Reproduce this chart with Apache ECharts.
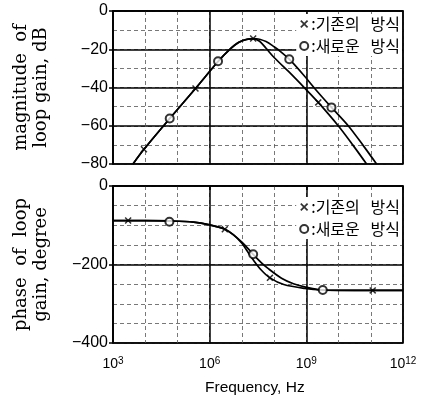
<!DOCTYPE html>
<html>
<head>
<meta charset="utf-8">
<script src="https://cdn.jsdelivr.net/npm/echarts@6/dist/echarts.min.js"></script>
<style>
  html, body { margin: 0; padding: 0; background: #fff; }
  #main { width: 422px; height: 401px; }
</style>
</head>
<body>
<div id="main"></div>
<script>
// x values are log10(frequency in Hz)
const xTicks = [3, 6, 9, 12];
const nameOld = '기존의 방식';
const nameNew = '새로운 방식';

// magnitude of loop gain, dB (curves)
const magOldCurve = [[3.62, -80], [3.96, -72.3], [4.76, -56.2], [5.56, -40.5], [6.26, -26.4], [6.6, -20.4],
  [6.9, -16.5], [7.15, -14.8], [7.35, -14.4], [7.55, -15.8], [7.75, -19.5], [8.0, -24.3], [8.5, -32.5],
  [8.95, -40.3], [9.37, -47.8], [9.99, -60], [10.44, -70], [10.87, -80]];
const magNewCurve = [[3.62, -80], [3.96, -72.3], [4.76, -56.2], [5.56, -40.5], [6.26, -26.4], [6.6, -20.4],
  [6.9, -16.4], [7.2, -14.7], [7.45, -14.5], [7.75, -16], [8.0, -18.7], [8.2, -21.2], [8.47, -25.2],
  [8.9, -33.2], [9.26, -40.5], [9.78, -50.4], [10.3, -60], [10.75, -70], [11.18, -80]];
const magOldMarks = [[3.96, -72.3], [5.56, -40.5], [7.35, -14.4], [9.37, -47.8]];
const magNewMarks = [[4.76, -56.2], [6.26, -26.3], [8.47, -25.2], [9.78, -50.4]];

// phase of loop gain, degree
const phaseOldCurve = [[3, -88], [4, -88], [4.75, -89], [5.5, -92], [6.0, -99], [6.47, -110], [6.75, -125],
  [7.0, -146], [7.2, -170], [7.35, -188], [7.6, -214], [7.87, -234], [8.3, -251], [8.95, -261],
  [9.5, -265], [10.5, -266], [12, -266]];
const phaseNewCurve = [[3, -88], [4, -88], [4.75, -89], [5.5, -92], [6.0, -99], [6.47, -110], [6.75, -125],
  [7.0, -143], [7.2, -160], [7.35, -174], [7.6, -195], [7.81, -210], [8.23, -235], [8.6, -249],
  [8.95, -257], [9.47, -265], [10, -266], [12, -266]];
const phaseOldMarks = [[3.47, -88], [6.47, -110], [7.87, -234], [11.06, -266]];
const phaseNewMarks = [[4.75, -91], [7.35, -174], [9.51, -265]];

const xSymbol = 'path://M0,1.5L1.5,0L5,3.5L8.5,0L10,1.5L6.5,5L10,8.5L8.5,10L5,6.5L1.5,10L0,8.5L3.5,5Z';

const chart = echarts.init(document.getElementById('main'));

const dashed = { color: '#555', type: [4, 3], width: 0.8 };
const solid = { color: '#000', width: 1.5 };
const tickFont = { color: '#000', fontFamily: 'Liberation Sans', fontSize: 16 };
const minus = v => String(v).replace('-', '\u2212');

function minorX(grid) {
  return { gridIndex: grid, type: 'value', position: 'bottom', min: 3, max: 12, interval: 1,
    axisLine: { show: false }, axisTick: { show: false }, axisLabel: { show: false },
    splitLine: { show: true, lineStyle: dashed } };
}
function majorX(grid, labels) {
  return { gridIndex: grid, type: 'value', position: 'bottom', min: 3, max: 12, interval: 3,
    axisLine: { show: true, lineStyle: solid },
    axisTick: { show: labels, length: 4, lineStyle: solid },
    axisLabel: { show: labels, margin: 13,
      formatter: v => '{b|10}{s|' + v + '}',
      rich: {
        b: { fontFamily: 'Liberation Sans', fontSize: 14, color: '#000', lineHeight: 16 },
        s: { fontFamily: 'Liberation Sans', fontSize: 10, color: '#000', padding: [0, 0, 7, 0] }
      } },
    splitLine: { show: true, lineStyle: solid } };
}
function minorY(grid, min, step) {
  return { gridIndex: grid, type: 'value', position: 'left', min: min, max: 0, interval: step,
    axisLine: { show: false }, axisTick: { show: false }, axisLabel: { show: false },
    splitLine: { show: true, lineStyle: dashed } };
}
function majorY(grid, min, step, name) {
  return { gridIndex: grid, type: 'value', position: 'left', min: min, max: 0, interval: step,
    name: name, nameLocation: 'middle', nameRotate: 90, nameGap: 62,
    nameTextStyle: { fontFamily: 'DejaVu Serif', fontSize: 18, color: '#000', lineHeight: 20 },
    axisLine: { show: true, lineStyle: solid },
    axisTick: { show: true, length: 4, lineStyle: solid },
    axisLabel: Object.assign({ margin: 5, formatter: minus }, tickFont),
    splitLine: { show: true, lineStyle: solid } };
}

function curve(data, xi, yi) {
  return { type: 'line', data: data, xAxisIndex: xi, yAxisIndex: yi, smooth: 0.3,
    symbol: 'none', lineStyle: { color: '#000', width: 1.7 }, silent: true, z: 3 };
}
function marks(name, data, xi, yi, isNew) {
  return { type: 'scatter', name: name, data: data, xAxisIndex: xi, yAxisIndex: yi,
    symbol: isNew ? 'circle' : xSymbol, symbolSize: isNew ? 8 : 7,
    itemStyle: isNew ? { color: '#fff', borderColor: '#000', borderWidth: 2 } : { color: '#000' }, z: 4 };
}
function legend(top) {
  return { orient: 'vertical', right: 20, top: top, align: 'left', itemGap: 6,
    itemWidth: 8, itemHeight: 8, backgroundColor: '#fff', padding: [2, 2, 2, 3],
    formatter: name => ':' + name.replace(' ', '   '),
    textStyle: { fontFamily: 'Noto Sans CJK KR', fontSize: 16, color: '#000', padding: [0, 0, 0, -2] },
    data: [{ name: nameOld, icon: xSymbol }, { name: nameNew, icon: 'circle' }] };
}

chart.setOption({
  animation: false,
  backgroundColor: '#fff',
  grid: [
    { left: 113, right: 19, top: 11, height: 153, show: true, borderColor: '#000', borderWidth: 1.5,
      outerBoundsMode: 'none', containLabel: false },
    { left: 113, right: 19, top: 186, height: 157, show: true, borderColor: '#000', borderWidth: 1.5,
      outerBoundsMode: 'none', containLabel: false }
  ],
  xAxis: [minorX(0), majorX(0, false), minorX(1), majorX(1, true)],
  yAxis: [minorY(0, -80, 10), majorY(0, -80, 20, 'magnitude  of\nloop gain, dB'),
          minorY(1, -400, 50), majorY(1, -400, 200, 'phase  of  loop\ngain, degree')],
  legend: [legend(14), legend(197)],
  graphic: [{ type: 'text', left: 205, top: 380,
    style: { text: 'Frequency, Hz', fontFamily: 'Liberation Sans', fontSize: 15.5, fill: '#000' } }],
  series: [
    curve(magOldCurve, 1, 1), curve(magNewCurve, 1, 1),
    marks(nameOld, magOldMarks, 1, 1, false), marks(nameNew, magNewMarks, 1, 1, true),
    curve(phaseOldCurve, 3, 3), curve(phaseNewCurve, 3, 3),
    marks(nameOld, phaseOldMarks, 3, 3, false), marks(nameNew, phaseNewMarks, 3, 3, true)
  ]
});
</script>
</body>
</html>
